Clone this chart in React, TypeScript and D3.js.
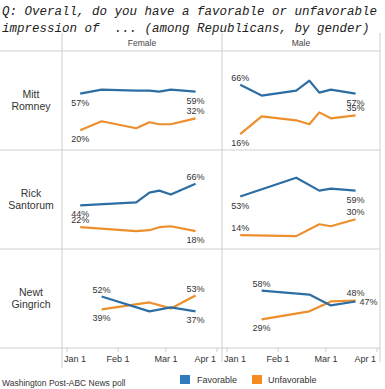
import * as d3 from 'd3';

// poll dates (2012)
const pollDates = ['2012-01-09', '2012-01-22', '2012-02-12', '2012-02-20', '2012-02-26', '2012-03-04', '2012-03-19'];
const genders = ['Female', 'Male'];
const candidates = ['Mitt\nRomney', 'Rick\nSantorum', 'Newt\nGingrich'];
const tickDates = ['2012-01-01', '2012-02-01', '2012-03-01', '2012-04-01'];
const tickLabels = ['Jan 1', 'Feb 1', 'Mar 1', 'Apr 1'];

// [candidate][gender] values per poll date, null = not asked
const favorable = [
  [[57, 61, 60, 60, 59, 61, 59], [66, 55, 60, 70, 58, 61, 57]],
  [[44, null, 47, 57, 59, 55, 66], [53, null, 72, null, 59, 61, 59]],
  [[null, 52, null, 37, null, 41, 37], [null, 58, null, 54, null, 43, 47]],
];
const unfavorable = [
  [[20, 29, 22, 28, 26, 26, 32], [16, 34, 30, 26, 38, 32, 35]],
  [[22, null, 18, 19, 22, 23, 18], [14, null, 13, null, 25, 23, 30]],
  [[null, 39, null, 46, null, 40, 53], [null, 29, null, 37, null, 47, 48]],
];
// where the first / last value labels sit
const favLabelPos = [
  [['below', 'below'], ['above', 'below']],
  [['below', 'above'], ['below', 'below']],
  [['above', 'below'], ['above', 'right']],
];
const unfavLabelPos = [
  [['below', 'above'], ['below', 'above']],
  [['above', 'below'], ['above', 'above']],
  [['below', 'above'], ['below', 'above']],
];

const W = 385;
const H = 389;
const colX = [0, 62, 222, 380];
const headerTop = 33;
const rowTop = 51;
const rowH = 99;
const BLUE = '#2c6ea3';
const ORANGE = '#ec8f2c';
const GRID = '#cfcfcf';
const sans = 'Arial, "Liberation Sans", sans-serif';

const parse = d3.timeParse('%Y-%m-%d');

const Series = ({values, color, pos, x, y}) => {
  const pts = pollDates
    .map((d, i) => ({date: parse(d), v: values[i]}))
    .filter(p => p.v !== null);
  const line = d3.line().x(p => x(p.date)).y(p => y(p.v));
  const ends = [pts[0], pts[pts.length - 1]];
  return (
    <g>
      <path d={line(pts)} fill="none" stroke={color} strokeWidth={2.2} strokeLinejoin="round" />
      {ends.map((p, k) => {
        const where = pos[k];
        const px = x(p.date);
        const py = y(p.v);
        let tx = px, ty = py + 12, anchor = 'middle';
        if (where === 'above') ty = py - 4;
        if (where === 'right') { tx = px + 4; ty = py + 4; anchor = 'start'; }
        return (
          <text key={k} x={tx} y={ty} textAnchor={anchor} fontSize={9} fill="#333" fontFamily={sans}>
            {p.v}%
          </text>
        );
      })}
    </g>
  );
};

export default function App() {
  const bottom = rowTop + rowH * candidates.length;
  return (
    <svg width={W} height={H} style={{position: 'absolute', left: 0, top: 0, background: '#fff'}}>
      <text x={2} y={15} fontFamily='"Liberation Mono", "Courier New", monospace' fontStyle="italic" fontSize={12.5} fill="#222" style={{whiteSpace: 'pre'}}>
        Q: Overall, do you have a favorable or unfavorable
      </text>
      <text x={2} y={31.5} fontFamily='"Liberation Mono", "Courier New", monospace' fontStyle="italic" fontSize={12.5} fill="#222" style={{whiteSpace: 'pre'}}>
        {'impression of  ... (among Republicans, by gender)'}
      </text>

      {/* grid */}
      {d3.range(candidates.length + 1).map(i => (
        <line key={'h' + i} x1={0} x2={colX[3]} y1={rowTop + i * rowH} y2={rowTop + i * rowH} stroke={GRID} />
      ))}
      {colX.slice(1).map((cx, i) => (
        <line key={'v' + i} x1={cx} x2={cx} y1={headerTop} y2={i === 0 ? 368 : 362} stroke={GRID} />
      ))}

      {genders.map((g, gi) => (
        <text key={g} x={(colX[gi + 1] + colX[gi + 2]) / 2} y={46} textAnchor="middle" fontSize={8.5} fill="#444" fontFamily={sans}>
          {g}
        </text>
      ))}

      {candidates.map((c, ci) => {
        const top = rowTop + ci * rowH;
        const y = d3.scaleLinear().domain([0, 100]).range([top + rowH, top]);
        return (
          <g key={c}>
            {c.split('\n').map((w, k) => (
              <text key={k} x={31} y={top + 47 + k * 12} textAnchor="middle" fontSize={10.5} fill="#333" fontFamily={sans}>
                {w}
              </text>
            ))}
            {genders.map((g, gi) => {
              const left = colX[gi + 1];
              const x = d3.scaleTime()
                .domain([parse(tickDates[0]), parse(tickDates[3])])
                .range([left + 5, left + 155]);
              return (
                <g key={g}>
                  <Series values={unfavorable[ci][gi]} color={ORANGE} pos={unfavLabelPos[ci][gi]} x={x} y={y} />
                  <Series values={favorable[ci][gi]} color={BLUE} pos={favLabelPos[ci][gi]} x={x} y={y} />
                </g>
              );
            })}
          </g>
        );
      })}

      {/* x axes */}
      {genders.map((g, gi) => {
        const left = colX[gi + 1];
        const x = d3.scaleTime()
          .domain([parse(tickDates[0]), parse(tickDates[3])])
          .range([left + 5, left + 155]);
        return (
          <g key={'ax' + g}>
            {tickDates.map((t, k) => {
              const tx = x(parse(t));
              const last = k === tickDates.length - 1;
              return (
                <g key={t}>
                  <line x1={tx} x2={tx} y1={bottom} y2={bottom + 4} stroke={GRID} />
                  <text
                    x={k === 0 ? tx - 3 : last ? tx - 1 : tx}
                    y={362}
                    textAnchor={k === 0 ? 'start' : last ? 'end' : 'middle'}
                    fontSize={9}
                    fill="#333"
                    fontFamily={sans}
                  >
                    {tickLabels[k]}
                  </text>
                </g>
              );
            })}
          </g>
        );
      })}

      <text x={2} y={386} fontSize={8.5} fill="#333" fontFamily={sans}>Washington Post-ABC News poll</text>
      <rect x={180} y={375} width={10} height={9} fill="#2f7bbd" />
      <text x={197} y={383} fontSize={9} fill="#333" fontFamily={sans}>Favorable</text>
      <rect x={252} y={375} width={10} height={9} fill="#f88b1f" />
      <text x={268} y={383} fontSize={9} fill="#333" fontFamily={sans}>Unfavorable</text>
    </svg>
  );
}
